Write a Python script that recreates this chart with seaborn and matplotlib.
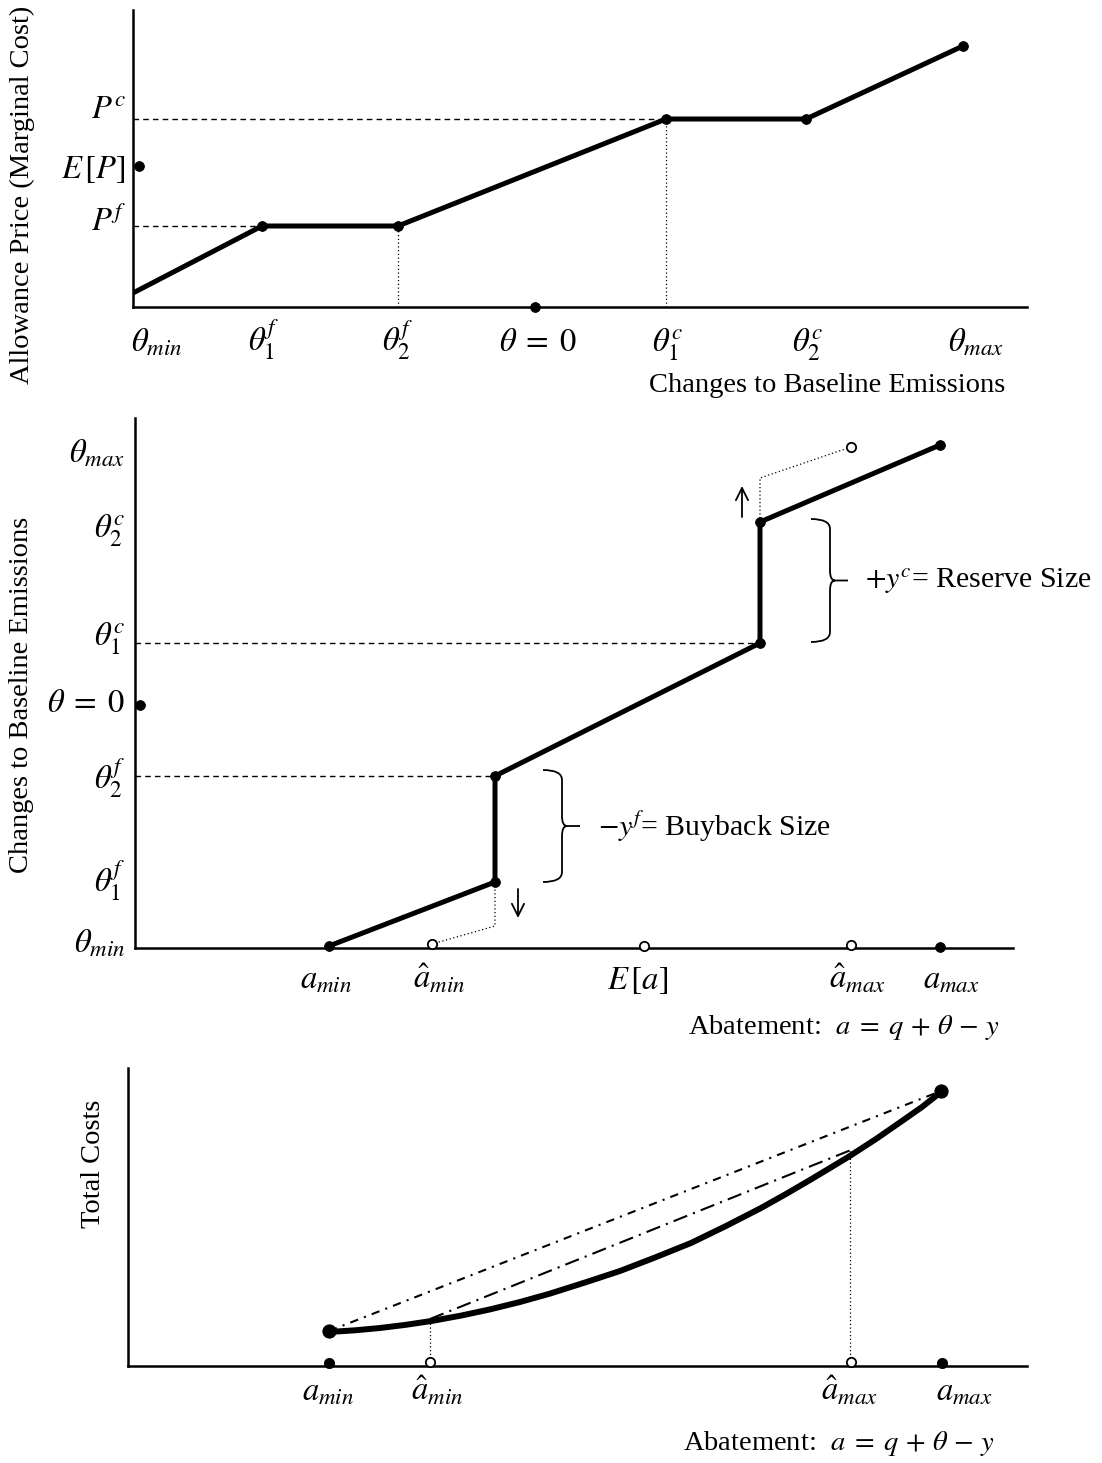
import numpy as np
import pandas as pd
import matplotlib
matplotlib.use("Agg")
import matplotlib.pyplot as plt
import seaborn as sns
from matplotlib.path import Path
from matplotlib.patches import PathPatch

# ---------------- Panel 1: allowance price vs changes to baseline emissions
theta_labels_top = [r'$\theta_{min}$', r'$\theta_1^f$', r'$\theta_2^f$', r'$\theta\;=\;0$',
                    r'$\theta_1^c$', r'$\theta_2^c$', r'$\theta_{max}$']
theta_label_pos_top = [2.4, 13.1, 26.5, 40.5, 53.5, 67.5, 84.3]
price_theta = [0.0, 12.9, 26.5, 53.3, 67.3, 83.0]
price_value = [1.4, 8.1, 8.1, 18.8, 18.8, 26.1]
theta_zero_top = 40.2
P_floor = 8.1
P_ceiling = 18.8
P_expected = 14.1
price_labels = [r'$P^f$', r'$E\,[P]$', r'$P^c$']
price_label_pos = [8.5, 13.7, 19.6]

# ---------------- Panel 2: changes to baseline emissions vs abatement
a_path = [19.4, 36.0, 36.0, 62.5, 62.5, 80.5]
theta_path = [0.2, 6.6, 17.2, 30.5, 42.6, 50.3]
theta_labels_mid = [r'$\theta_{min}$', r'$\theta_1^f$', r'$\theta_2^f$', r'$\theta\;=\;0$',
                    r'$\theta_1^c$', r'$\theta_2^c$', r'$\theta_{max}$']
theta_label_pos_mid = [0.4, 6.8, 17.0, 24.4, 31.0, 41.8, 49.4]
theta_zero_mid = 24.3
a_hat_min = 29.7
a_expected = 50.9
a_hat_max = 71.6
a_labels_mid = [r'$a_{min}$', r'$\hat{a}_{min}$', r'$E\,[a]$', r'$\hat{a}_{max}$', r'$a_{max}$']
a_label_pos_mid = [19.1, 30.4, 50.3, 72.3, 81.6]
buyback_drop = [6.6, 2.2, 0.4]
reserve_rise = [42.6, 47.0, 50.1]

# ---------------- Panel 3: total costs vs abatement
a_curve = [20.1, 22.7, 25.2, 27.8, 30.4, 33.3, 36.2, 39.2, 42.2, 45.7, 49.2, 52.7,
           56.3, 59.8, 63.3, 65.8, 68.2, 70.2, 72.1, 74.8, 77.4, 79.4, 81.3]
tc_curve = [3.4, 3.57, 3.8, 4.12, 4.51, 5.04, 5.66, 6.4, 7.24, 8.35, 9.5, 10.85,
            12.3, 14.0, 15.8, 17.2, 18.6, 19.8, 20.95, 22.7, 24.5, 25.9, 27.4]
a_hat_min_b = 30.2
a_hat_max_b = 72.3
tc_hat_min = 4.7
tc_hat_max = 21.6
a_labels_bot = [r'$a_{min}$', r'$\hat{a}_{min}$', r'$\hat{a}_{max}$', r'$a_{max}$']
a_label_pos_bot = [20.0, 30.9, 72.2, 83.6]

# ---------------- style
sns.set_theme(style="white")
plt.rcParams['font.family'] = ['Liberation Serif', 'DejaVu Serif']
plt.rcParams['mathtext.fontset'] = 'stix'

FS = 20.5
MFS = 23.5
K = 'black'
LW_MAIN = 3.6

fig = plt.figure(figsize=(11.02, 14.63), dpi=100)
W, H = 1102.0, 1463.0


def make_ax(left, top, right, bottom):
    ax = fig.add_axes([left / W, 1 - bottom / H, (right - left) / W, (bottom - top) / H])
    ax.set_facecolor('white')
    sns.despine(ax=ax)
    for s in ('left', 'bottom'):
        ax.spines[s].set_linewidth(1.8)
        ax.spines[s].set_color(K)
    ax.tick_params(length=0, labelsize=MFS, colors=K)
    return ax


def set_xlabels(ax, pos, labels, pad):
    ax.set_xticks(pos)
    ax.set_xticklabels(labels, fontsize=MFS)
    ax.tick_params(axis='x', pad=pad)
    for t in ax.get_xticklabels():
        t.set_verticalalignment('baseline')


def set_ylabels(ax, pos, labels, pad):
    ax.set_yticks(pos)
    ax.set_yticklabels(labels, fontsize=MFS)
    ax.tick_params(axis='y', pad=pad)
    for t in ax.get_yticklabels():
        t.set_verticalalignment('center')


def brace(ax, x0, ybot, ytop, w=1.9, tip=1.8, r=1.0, k=0.5):
    xv = x0 + w
    xt = xv + tip
    ym = 0.5 * (ybot + ytop)
    verts = [(x0, ytop), (xv, ytop), (xv, ytop - r), (xv, ym + r),
             (xv, ym), (xv + k, ym), (xt, ym),
             (xv + k, ym), (xv, ym), (xv, ym - r), (xv, ybot + r),
             (xv, ybot), (x0, ybot)]
    codes = [Path.MOVETO, Path.CURVE3, Path.CURVE3, Path.LINETO,
             Path.CURVE3, Path.CURVE3, Path.LINETO,
             Path.MOVETO, Path.CURVE3, Path.CURVE3, Path.LINETO,
             Path.CURVE3, Path.CURVE3]
    ax.add_patch(PathPatch(Path(verts, codes), fill=False, lw=1.3, color=K))


dash = (0, (4, 3))
dot = (0, (1, 2))
abatement_text = r'Abatement:  $a\;=\;q\,+\,\theta\,-\,y$'

# ================= Panel 1
ax1 = make_ax(133, 10, 1027, 307)
ax1.set_xlim(0, 89.4)
ax1.set_ylim(0, 29.7)
ax1.plot([0, price_theta[1]], [P_floor, P_floor], color=K, lw=1.0, ls=dash)
ax1.plot([0, price_theta[3]], [P_ceiling, P_ceiling], color=K, lw=1.0, ls=dash)
ax1.plot([price_theta[2]] * 2, [0, P_floor], color=K, lw=0.9, ls=dot)
ax1.plot([price_theta[3]] * 2, [0, P_ceiling], color=K, lw=0.9, ls=dot)
sns.lineplot(x=price_theta, y=price_value, sort=False, estimator=None,
             color=K, linewidth=LW_MAIN, ax=ax1)
sns.scatterplot(x=price_theta[1:], y=price_value[1:], s=50, color=K,
                edgecolor=K, zorder=5, ax=ax1, clip_on=False)
sns.scatterplot(x=[0.6, theta_zero_top], y=[P_expected, 0.0], s=50, color=K,
                edgecolor=K, zorder=5, ax=ax1, clip_on=False)
set_xlabels(ax1, theta_label_pos_top, theta_labels_top, pad=32)
set_ylabels(ax1, price_label_pos, price_labels, pad=5)
ax1.set_xlabel('')
ax1.set_ylabel('')

fig.text(22 / W, 1 - 195 / H, 'Allowance Price (Marginal Cost)', rotation=90,
         ha='center', va='center', fontsize=FS, color=K)
fig.text(1005 / W, 1 - 386 / H, 'Changes to Baseline Emissions',
         ha='right', va='center', fontsize=FS, color=K)

# ================= Panel 2
ax2 = make_ax(135, 418, 1013, 948)
ax2.set_xlim(0, 87.8)
ax2.set_ylim(0, 53.0)
ax2.plot([0, a_path[2]], [theta_path[2]] * 2, color=K, lw=1.0, ls=dash)
ax2.plot([0, a_path[3]], [theta_path[3]] * 2, color=K, lw=1.0, ls=dash)
ax2.plot([a_path[1], a_path[1], a_hat_min], buyback_drop, color=K, lw=0.9, ls=dot)
ax2.plot([a_path[4], a_path[4], a_hat_max], reserve_rise, color=K, lw=0.9, ls=dot)
sns.lineplot(x=a_path, y=theta_path, sort=False, estimator=None,
             color=K, linewidth=LW_MAIN, ax=ax2)
sns.scatterplot(x=a_path, y=theta_path, s=50, color=K, edgecolor=K,
                zorder=5, ax=ax2, clip_on=False)
sns.scatterplot(x=[0.5, a_path[-1]], y=[theta_zero_mid, 0.1], s=50, color=K,
                edgecolor=K, zorder=5, ax=ax2, clip_on=False)
ax2.scatter([a_hat_min, a_expected, a_hat_max, a_hat_max],
            [0.4, 0.2, 0.3, reserve_rise[-1]], s=45, facecolor='white',
            edgecolor=K, linewidth=1.3, zorder=6, clip_on=False)
ax2.annotate('', xy=(38.3, 3.0), xytext=(38.3, 5.9),
             arrowprops=dict(arrowstyle='->', lw=1.3, color=K, mutation_scale=22,
                             shrinkA=0, shrinkB=0))
ax2.annotate('', xy=(60.7, 46.2), xytext=(60.7, 43.1),
             arrowprops=dict(arrowstyle='->', lw=1.3, color=K, mutation_scale=22,
                             shrinkA=0, shrinkB=0))
brace(ax2, a_path[3] + 5.1, theta_path[3] + 0.1, theta_path[4] + 0.3)
brace(ax2, a_path[1] + 4.8, theta_path[1], theta_path[2] + 0.6)
ax2.text(73.0, 36.7, r'$+y^c$= Reserve Size', ha='left', va='center',
         fontsize=21.5, color=K)
ax2.text(46.3, 12.1, r'$-y^f$= Buyback Size', ha='left', va='center',
         fontsize=21.5, color=K)
set_xlabels(ax2, a_label_pos_mid, a_labels_mid, pad=29.5)
set_ylabels(ax2, theta_label_pos_mid, theta_labels_mid, pad=7)
ax2.set_xlabel('')
ax2.set_ylabel('')

fig.text(22 / W, 1 - 695 / H, 'Changes to Baseline Emissions', rotation=90,
         ha='center', va='center', fontsize=FS, color=K)
fig.text(1000 / W, 1 - 1027 / H, abatement_text,
         ha='right', va='center', fontsize=FS, color=K)

# ================= Panel 3
ax3 = make_ax(128, 1068, 1027, 1366)
ax3.set_xlim(0, 89.9)
ax3.set_ylim(0, 29.8)
ax3.plot([a_curve[0], a_curve[-1]], [tc_curve[0] + 0.1, tc_curve[-1] + 0.1], color=K,
         lw=1.5, ls=(0, (4, 3, 1, 3)))
ax3.plot([a_hat_min_b, a_hat_max_b], [tc_hat_min, tc_hat_max], color=K,
         lw=1.5, ls=(0, (7, 3, 1, 3)))
ax3.plot([a_hat_min_b] * 2, [0.4, tc_hat_min], color=K, lw=0.9, ls=dot)
ax3.plot([a_hat_max_b - 0.1] * 2, [0.4, tc_hat_max], color=K, lw=0.9, ls=dot)
sns.lineplot(x=a_curve, y=tc_curve, sort=False, estimator=None,
             color=K, linewidth=4.3, ax=ax3, solid_joinstyle='round',
             solid_capstyle='round')
sns.scatterplot(x=[a_curve[0], a_curve[-1]], y=[tc_curve[0] + 0.1, tc_curve[-1] + 0.1],
                s=90, color=K, edgecolor=K, zorder=5, ax=ax3, clip_on=False)
sns.scatterplot(x=[a_curve[0], a_curve[-1] + 0.1], y=[0.3, 0.3], s=55, color=K,
                edgecolor=K, zorder=5, ax=ax3, clip_on=False)
ax3.scatter([a_hat_min_b, a_hat_max_b], [0.4, 0.4], s=45, facecolor='white',
            edgecolor=K, linewidth=1.3, zorder=6, clip_on=False)
set_xlabels(ax3, a_label_pos_bot, a_labels_bot, pad=24.5)
ax3.set_yticks([])
ax3.set_xlabel('')
ax3.set_ylabel('')

fig.text(93 / W, 1 - 1164 / H, 'Total Costs', rotation=90,
         ha='center', va='center', fontsize=FS, color=K)
fig.text(995 / W, 1 - 1443 / H, abatement_text,
         ha='right', va='center', fontsize=FS, color=K)

fig.savefig('out.png', dpi=100, facecolor='white')
